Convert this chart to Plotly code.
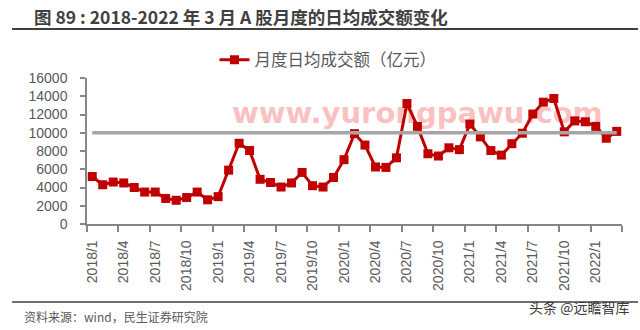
import plotly.graph_objects as go

# Monthly average daily turnover of A shares (100 million yuan), 2018/1 - 2022/3
months = [f"{y}/{m}" for y in range(2018, 2023) for m in range(1, 13)][:51]
turnover = [
    5200, 4300, 4600, 4500, 4000, 3500, 3500, 2800, 2600, 2900, 3500, 2650,
    3000, 5900, 8850, 8050, 4900, 4550, 4050, 4500, 5650, 4200, 4050, 5100,
    7050, 9900, 8650, 6250, 6200, 7250, 13200, 10700, 7700, 7450, 8350, 8150,
    10950, 9550, 8050, 7550, 8800, 9950, 12050, 13350, 13750, 10100, 11300, 11200,
    10700, 9400, 10150,
]
reference_level = 10000
y_ticks = list(range(0, 16001, 2000))
y_tick_text = [str(v) for v in y_ticks]

idx = list(range(len(months)))
label_idx = idx[::3]
label_text = [months[i] for i in label_idx]
boundary_ticks = [i - 0.5 for i in range(0, len(months) + 1, 3)]

CJK = "Noto Sans CJK SC"
LAT = "Liberation Sans"
TXT = "#595959"

fig = go.Figure()

# faint site mark behind the series
fig.add_trace(go.Scatter(
    x=[31.0], y=[11900], mode="text", text=["www.yurongpawu.com"],
    textfont=dict(family="DejaVu Sans", size=29, weight="bold", color="rgba(248,140,140,0.55)"),
    showlegend=False, hoverinfo="skip",
))

fig.add_trace(go.Scatter(
    x=idx, y=turnover, mode="lines+markers", name="月度日均成交额（亿元）",
    line=dict(color="#C00000", width=3),
    marker=dict(symbol="square", size=9, color="#C00000"),
))

fig.add_trace(go.Scatter(
    x=[idx[0], idx[-1]], y=[reference_level, reference_level], mode="lines",
    line=dict(color="#A6A6A6", width=3.5), showlegend=False, hoverinfo="skip",
))

L, R, T, B = 87, 18, 78, 106
W, H = 640, 330
pw, ph = W - L - R, H - T - B


def px(x):
    return (x - L) / pw


def py(y):
    return (H - B - y) / ph


fig.update_layout(
    width=W, height=H,
    margin=dict(l=L, r=R, t=T, b=B),
    paper_bgcolor="white", plot_bgcolor="white",
    showlegend=True,
    legend=dict(orientation="h", x=px(328), xanchor="center", y=py(60), yanchor="middle",
                font=dict(family=CJK, size=16.5, color=TXT), bgcolor="rgba(0,0,0,0)"),
    xaxis=dict(
        range=[-0.5, len(months) - 0.5],
        tickmode="array", tickvals=label_idx, ticktext=label_text,
        ticks="", tickangle=-90, ticklabelstandoff=9,
        tickfont=dict(family=LAT, size=14, color=TXT),
        showline=True, linecolor="#868686", linewidth=1.5,
        showgrid=False, zeroline=False,
        minor=dict(tickmode="array", tickvals=boundary_ticks, ticks="outside",
                   ticklen=6, tickcolor="#868686", tickwidth=1.5, showgrid=False),
    ),
    yaxis=dict(
        range=[0, 16000], tickmode="array", tickvals=y_ticks, ticktext=y_tick_text,
        ticks="outside", ticklen=5, tickcolor="#868686", tickwidth=1.5,
        ticklabelstandoff=10,
        tickfont=dict(family=LAT, size=14, color=TXT),
        showline=True, linecolor="#868686", linewidth=1.5,
        showgrid=False, zeroline=False,
    ),
    shapes=[
        dict(type="line", xref="paper", yref="paper", x0=px(12), x1=px(638),
             y0=py(29), y1=py(29), line=dict(color="#404040", width=2)),
        dict(type="line", xref="paper", yref="paper", x0=px(12), x1=px(638),
             y0=py(302), y1=py(302), line=dict(color="#404040", width=1.5)),
    ],
    annotations=[
        dict(text="<b>图 89 : 2018-2022 年 3 月 A 股月度的日均成交额变化</b>",
             xref="paper", yref="paper", x=px(32), y=py(16), xanchor="left", yanchor="middle",
             showarrow=False, font=dict(family=CJK, size=17.5, color="#404040")),
        dict(text="资料来源：wind，民生证券研究院",
             xref="paper", yref="paper", x=px(22), y=py(316), xanchor="left", yanchor="middle",
             showarrow=False, font=dict(family=CJK, size=12, color=TXT)),
        dict(text="头条 @远瞻智库",
             xref="paper", yref="paper", x=px(631), y=py(307), xanchor="right", yanchor="middle",
             showarrow=False, font=dict(family=CJK, size=14, color="#3a3a3a")),
    ],
)

fig.write_html("out.html")
